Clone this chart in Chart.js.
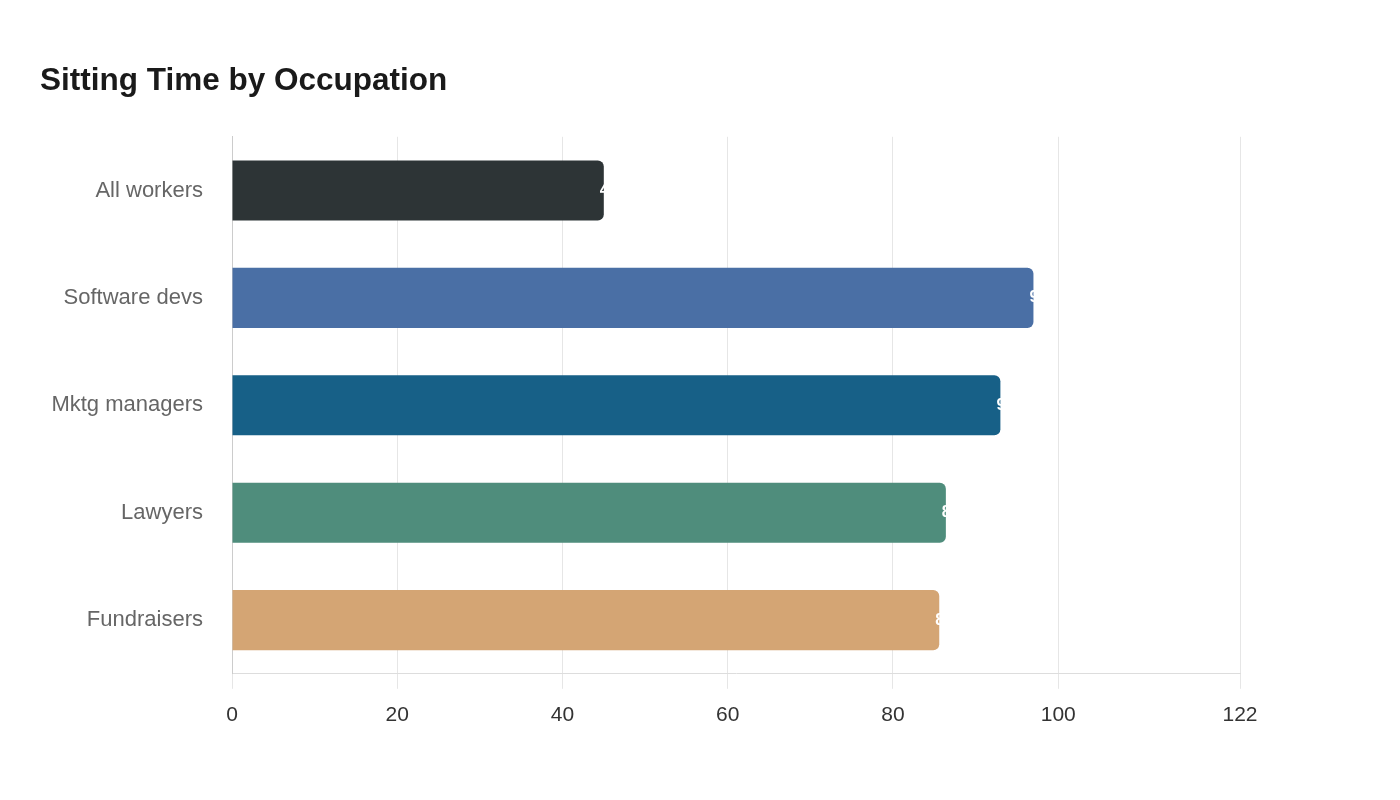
<!DOCTYPE html>
<html>
<head>
<meta charset="utf-8">
<title>Sitting Time by Occupation</title>
<script src="https://cdn.jsdelivr.net/npm/chart.js@4.4.1/dist/chart.umd.min.js"></script>
<style>
  html, body { margin: 0; padding: 0; background: #fff; }
  #wrap { width: 1400px; height: 800px; }
</style>
</head>
<body>
<div id="wrap"><canvas id="chart"></canvas></div>
<script>
// data
var occupations = ['All workers', 'Software devs', 'Mktg managers', 'Lawyers', 'Fundraisers'];
var sittingValues = [45, 97, 93, 86.4, 85.6];
var barColors = ['#2d3436', '#4a6fa5', '#176087', '#4f8d7c', '#d4a574'];
var xTicks = [0, 20, 40, 60, 80, 100, 122];

// white value text at the end of each bar (mostly hidden on the white background)
var endLabels = {
    id: 'endLabels',
    afterDatasetsDraw: function (chart) {
        var ctx = chart.ctx;
        var meta = chart.getDatasetMeta(0);
        ctx.save();
        ctx.fillStyle = '#ffffff';
        ctx.font = 'bold 16px "Liberation Sans", Arial, sans-serif';
        ctx.textAlign = 'left';
        ctx.textBaseline = 'middle';
        meta.data.forEach(function (bar, i) {
            ctx.fillText(String(sittingValues[i]), bar.x - 4, bar.y);
        });
        ctx.restore();
    }
};

new Chart(document.getElementById('chart'), {
    type: 'bar',
    data: {
        labels: occupations,
        datasets: [{
            data: sittingValues,
            backgroundColor: barColors,
            borderRadius: 6,
            borderSkipped: 'start',
            categoryPercentage: 0.8,
            barPercentage: 0.7
        }]
    },
    options: {
        indexAxis: 'y',
        responsive: true,
        maintainAspectRatio: false,
        animation: false,
        layout: { padding: { top: 44, left: 40, right: 160, bottom: 58 } },
        plugins: {
            legend: { display: false },
            tooltip: { enabled: false },
            title: {
                display: true,
                text: 'Sitting Time by Occupation',
                align: 'start',
                color: '#1a1a1a',
                font: { family: '"Liberation Sans", Arial, sans-serif', size: 31.5, weight: 'bold' },
                padding: { top: 18, bottom: 37 }
            }
        },
        scales: {
            x: {
                min: 0,
                max: 122,
                afterBuildTicks: function (scale) {
                    scale.ticks = xTicks.map(function (v) { return { value: v }; });
                },
                grid: { color: '#e6e6e6', lineWidth: 1, drawTicks: true, tickLength: 15 },
                border: { display: true, color: '#dddddd' },
                ticks: {
                    color: '#333333',
                    padding: 14,
                    font: { family: '"Liberation Sans", Arial, sans-serif', size: 21 }
                }
            },
            y: {
                afterFit: function (scale) { scale.width = 192; },
                grid: { display: false, drawTicks: false },
                border: { display: true, color: '#cccccc' },
                ticks: {
                    color: '#666666',
                    padding: 29,
                    font: { family: '"Liberation Sans", Arial, sans-serif', size: 22 }
                }
            }
        }
    },
    plugins: [endLabels]
});
</script>
</body>
</html>
